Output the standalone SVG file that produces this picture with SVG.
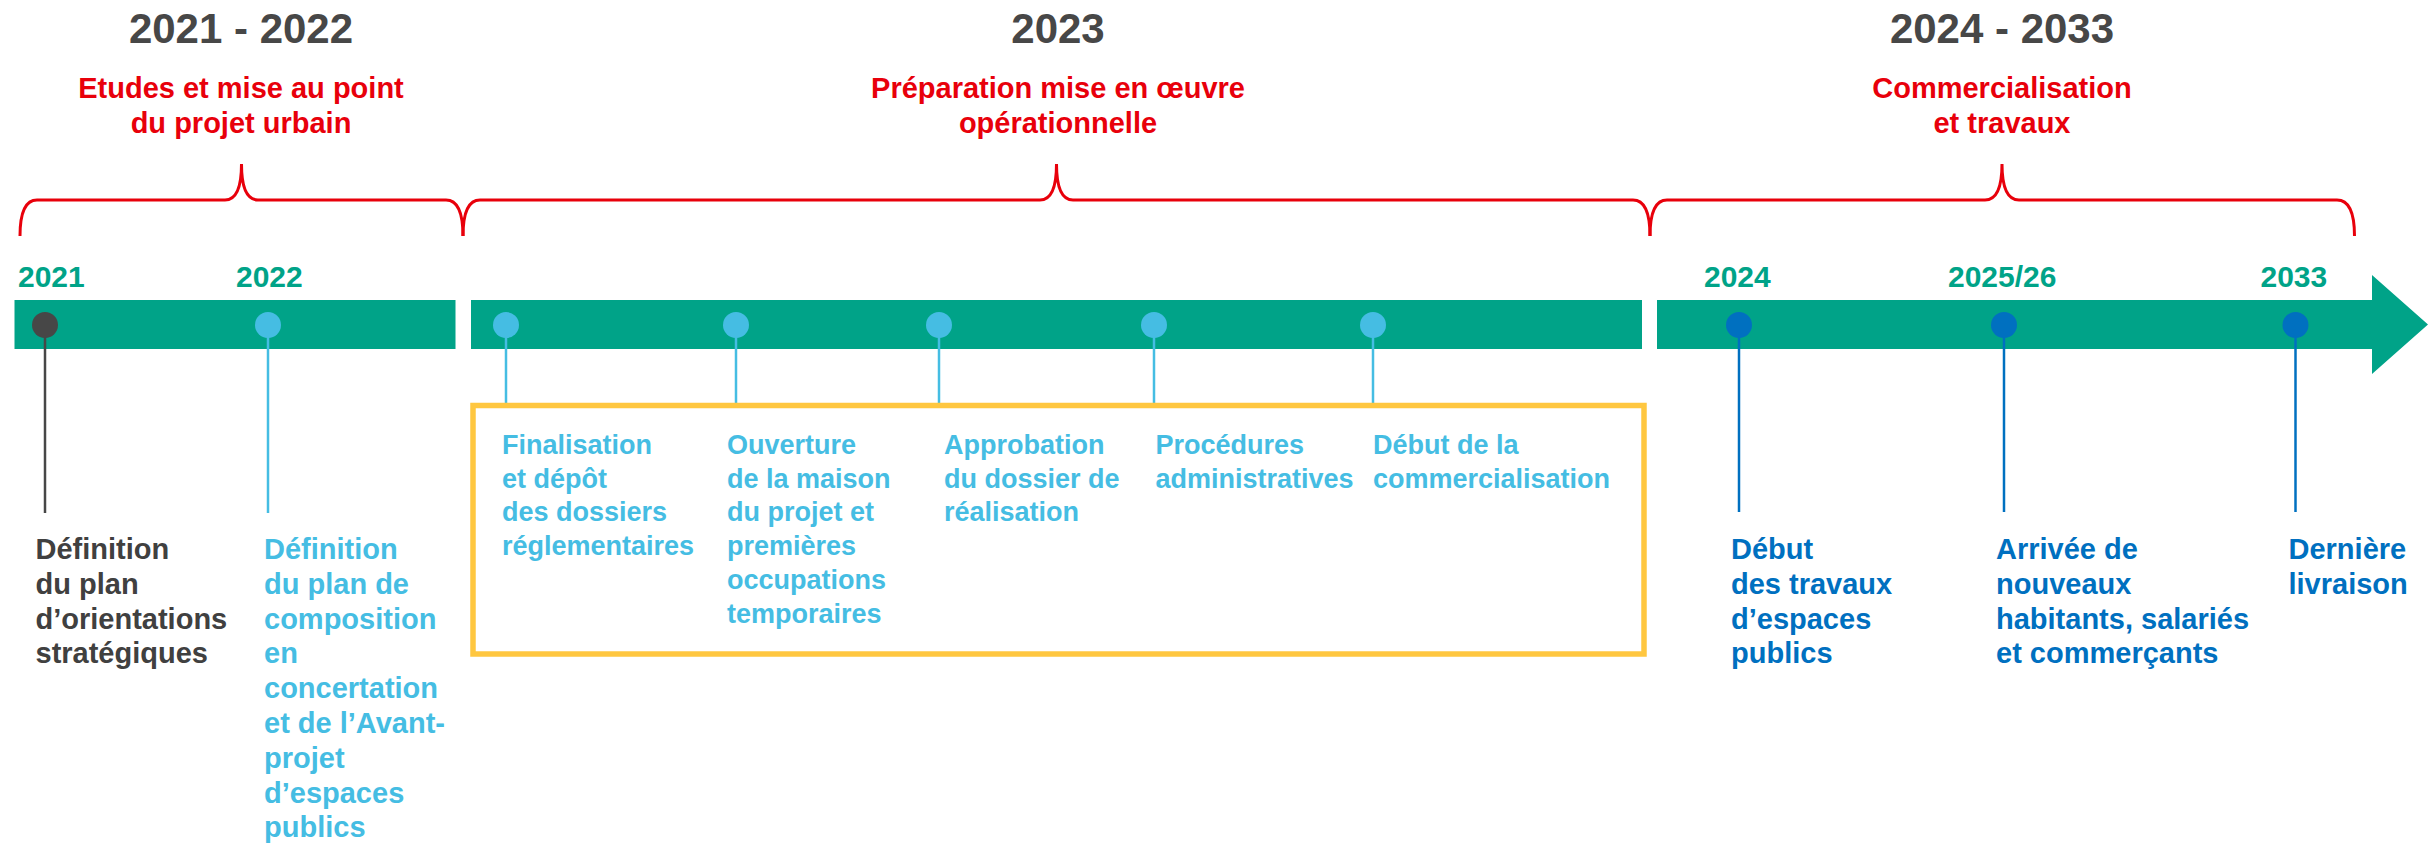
<svg xmlns="http://www.w3.org/2000/svg" width="2433" height="845" viewBox="0 0 2433 845">
<style>
text{font-family:"Liberation Sans",Arial,sans-serif;font-weight:bold}
.title{font-size:42px;fill:#474747;text-anchor:middle}
.phase{font-size:29px;fill:#E8000B;text-anchor:middle}
.year{font-size:30px;fill:#00A388}
.brace{fill:none;stroke:#E8000B;stroke-width:3}
.bar{fill:#00A388}
.t-grey{font-size:29px;fill:#404040}
.t-light{font-size:29px;fill:#45BDE3}
.t-box{font-size:27px;fill:#45BDE3}
.t-dark{font-size:29px;fill:#0070C0}
.s-grey{stroke:#474747;stroke-width:2.5}
.s-light{stroke:#45BDE3;stroke-width:2.5}
.s-dark{stroke:#0070C0;stroke-width:2.5}
</style>
<rect width="2433" height="845" fill="#fff"/>

<g id="phase-2021-2022">
<text class="title" x="241" y="43">2021 - 2022</text>
<text class="phase" x="241" y="98">Etudes et mise au point</text>
<text class="phase" x="241" y="133">du projet urbain</text>
<path class="brace" d="M20,236 C20,212 26,200 37,200 L225,200 C236,200 241.5,188 241.5,164 C241.5,188 247,200 258,200 L446,200 C457,200 463,212 463,236"/>
</g>
<g id="phase-2023">
<text class="title" x="1058" y="43">2023</text>
<text class="phase" x="1058" y="98">Préparation mise en œuvre</text>
<text class="phase" x="1058" y="133">opérationnelle</text>
<path class="brace" d="M463,236 C463,212 469,200 480,200 L1040,200 C1051,200 1056.5,188 1056.5,164 C1056.5,188 1062,200 1073,200 L1633,200 C1644,200 1650,212 1650,236"/>
</g>
<g id="phase-2024-2033">
<text class="title" x="2002" y="43">2024 - 2033</text>
<text class="phase" x="2002" y="98">Commercialisation</text>
<text class="phase" x="2002" y="133">et travaux</text>
<path class="brace" d="M1650,236 C1650,212 1656,200 1667,200 L1985,200 C1996,200 2002,188 2002,164 C2002,188 2008,200 2019,200 L2337,200 C2348,200 2354.5,212 2354.5,236"/>
</g>

<g id="timeline">
<rect class="bar" x="14.5" y="300" width="441" height="49"/>
<rect class="bar" x="471" y="300" width="1171" height="49"/>
<polygon class="bar" points="1657,300 2372,300 2372,275 2428,324.5 2372,374 2372,349 1657,349"/>
<text class="year" x="18" y="287">2021</text>
<text class="year" x="236" y="287">2022</text>
<text class="year" x="1704" y="287">2024</text>
<text class="year" x="1948" y="287">2025/26</text>
<text class="year" x="2260.5" y="287">2033</text>
</g>

<g id="connectors">
<line class="s-grey" x1="45" y1="325" x2="45" y2="513"/>
<line class="s-light" x1="268" y1="325" x2="268" y2="513"/>
<line class="s-light" x1="506" y1="325" x2="506" y2="405"/>
<line class="s-light" x1="736" y1="325" x2="736" y2="405"/>
<line class="s-light" x1="939" y1="325" x2="939" y2="405"/>
<line class="s-light" x1="1154" y1="325" x2="1154" y2="405"/>
<line class="s-light" x1="1373" y1="325" x2="1373" y2="405"/>
<line class="s-dark" x1="1739" y1="325" x2="1739" y2="512"/>
<line class="s-dark" x1="2004" y1="325" x2="2004" y2="512"/>
<line class="s-dark" x1="2295.5" y1="325" x2="2295.5" y2="512"/>
</g>

<g id="m-2021">
<circle cx="45" cy="325" r="13" fill="#474747"/>
<text class="t-grey" x="35.5" y="559"><tspan x="35.5">Définition</tspan><tspan x="35.5" dy="34.8">du plan</tspan><tspan x="35.5" dy="34.8">d’orientations</tspan><tspan x="35.5" dy="34.8">stratégiques</tspan></text>
</g>
<g id="m-2022">
<circle cx="268" cy="325" r="13" fill="#45BDE3"/>
<text class="t-light" x="264" y="559"><tspan x="264">Définition</tspan><tspan x="264" dy="34.8">du plan de</tspan><tspan x="264" dy="34.8">composition</tspan><tspan x="264" dy="34.8">en</tspan><tspan x="264" dy="34.8">concertation</tspan><tspan x="264" dy="34.8">et de l’Avant-</tspan><tspan x="264" dy="34.8">projet</tspan><tspan x="264" dy="34.8">d’espaces</tspan><tspan x="264" dy="34.8">publics</tspan></text>
</g>

<g id="box-2023">
<rect x="473" y="405.5" width="1171" height="248.5" fill="none" stroke="#FFC740" stroke-width="5.5"/>
</g>
<g id="m-finalisation">
<circle cx="506" cy="325" r="13" fill="#45BDE3"/>
<text class="t-box" x="502" y="454"><tspan x="502">Finalisation</tspan><tspan x="502" dy="33.7">et dépôt</tspan><tspan x="502" dy="33.7">des dossiers</tspan><tspan x="502" dy="33.7">réglementaires</tspan></text>
</g>
<g id="m-ouverture">
<circle cx="736" cy="325" r="13" fill="#45BDE3"/>
<text class="t-box" x="727" y="454"><tspan x="727">Ouverture</tspan><tspan x="727" dy="33.7">de la maison</tspan><tspan x="727" dy="33.7">du projet et</tspan><tspan x="727" dy="33.7">premières</tspan><tspan x="727" dy="33.7">occupations</tspan><tspan x="727" dy="33.7">temporaires</tspan></text>
</g>
<g id="m-approbation">
<circle cx="939" cy="325" r="13" fill="#45BDE3"/>
<text class="t-box" x="944" y="454"><tspan x="944">Approbation</tspan><tspan x="944" dy="33.7">du dossier de</tspan><tspan x="944" dy="33.7">réalisation</tspan></text>
</g>
<g id="m-procedures">
<circle cx="1154" cy="325" r="13" fill="#45BDE3"/>
<text class="t-box" x="1155.5" y="454"><tspan x="1155.5">Procédures</tspan><tspan x="1155.5" dy="33.7">administratives</tspan></text>
</g>
<g id="m-commercialisation">
<circle cx="1373" cy="325" r="13" fill="#45BDE3"/>
<text class="t-box" x="1373" y="454"><tspan x="1373">Début de la</tspan><tspan x="1373" dy="33.7">commercialisation</tspan></text>
</g>

<g id="m-2024">
<circle cx="1739" cy="325" r="13" fill="#0070C0"/>
<text class="t-dark" x="1731" y="559"><tspan x="1731">Début</tspan><tspan x="1731" dy="34.8">des travaux</tspan><tspan x="1731" dy="34.8">d’espaces</tspan><tspan x="1731" dy="34.8">publics</tspan></text>
</g>
<g id="m-2025">
<circle cx="2004" cy="325" r="13" fill="#0070C0"/>
<text class="t-dark" x="1996" y="559"><tspan x="1996">Arrivée de</tspan><tspan x="1996" dy="34.8">nouveaux</tspan><tspan x="1996" dy="34.8">habitants, salariés</tspan><tspan x="1996" dy="34.8">et commerçants</tspan></text>
</g>
<g id="m-2033">
<circle cx="2295.5" cy="325" r="13" fill="#0070C0"/>
<text class="t-dark" x="2288.5" y="559"><tspan x="2288.5">Dernière</tspan><tspan x="2288.5" dy="34.8">livraison</tspan></text>
</g>
</svg>
